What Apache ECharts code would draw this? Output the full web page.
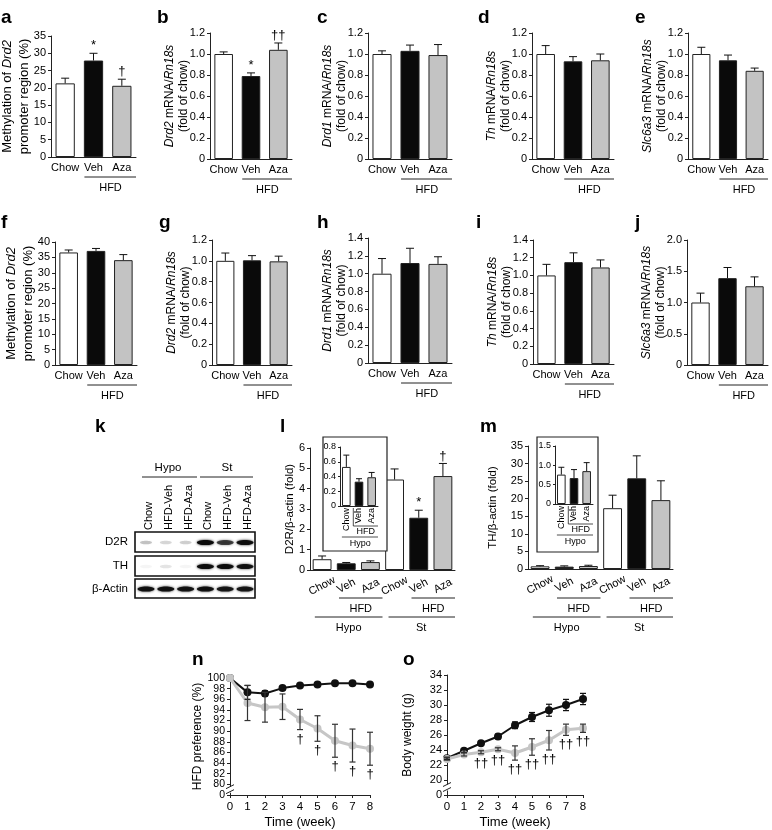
<!DOCTYPE html>
<html><head><meta charset="utf-8">
<script src="https://cdn.jsdelivr.net/npm/echarts@6/dist/echarts.min.js"></script>
<style>html,body{margin:0;padding:0;background:#fff}#c{width:772px;height:830px}</style>
</head><body><div id="c"></div>
<script>
const FONT = '"Liberation Sans", Arial, Helvetica, sans-serif';
// ---------- data ----------
const groups3 = ['Chow', 'Veh', 'Aza'];
const aMean = [21.3, 27.9, 20.6], aErr = [1.5, 2.1, 1.9], aSig = ['', '*', '†'];
const bMean = [1.00, 0.79, 1.04], bErr = [0.02, 0.03, 0.065], bSig = ['', '*', '††'];
const cMean = [1.00, 1.03, 0.99], cErr = [0.03, 0.055, 0.10];
const dMean = [1.00, 0.93, 0.94], dErr = [0.08, 0.045, 0.06];
const eMean = [1.00, 0.94, 0.84], eErr = [0.064, 0.05, 0.026];
const fMean = [36.6, 37.1, 34.1], fErr = [0.8, 0.8, 1.8];
const gMean = [1.00, 1.005, 0.995], gErr = [0.075, 0.045, 0.05];
const hMean = [1.00, 1.12, 1.11], hErr = [0.17, 0.165, 0.08];
const iMean = [1.00, 1.15, 1.09], iErr = [0.125, 0.105, 0.085];
const jMean = [1.00, 1.39, 1.26], jErr = [0.15, 0.17, 0.15];

const lmCats = ['Hypo|Chow', 'Hypo|Veh', 'Hypo|Aza', 'St|Chow', 'St|Veh', 'St|Aza'];
const lMean = [0.53, 0.33, 0.39, 4.45, 2.57, 4.62], lErr = [0.16, 0.04, 0.06, 0.52, 0.37, 0.62];
const lSig = ['', '', '', '', '*', '†'];
const lInsetMean = [0.53, 0.33, 0.39], lInsetErr = [0.16, 0.04, 0.065];
const mMean = [0.76, 0.67, 0.85, 17.3, 25.8, 19.6], mErr = [0.19, 0.22, 0.22, 3.7, 6.4, 5.5];
const mInsetMean = [0.76, 0.67, 0.85], mInsetErr = [0.19, 0.22, 0.22];

const weeks = [0, 1, 2, 3, 4, 5, 6, 7, 8];
const prefVeh = [100, 97.3, 97.1, 98.1, 98.6, 98.8, 99.0, 99.0, 98.8];
const prefVehErr = [0, 1.3, 0.5, 0.3, 0.3, 0.3, 0.3, 0.3, 0.3];
const prefAza = [100, 95.3, 94.5, 94.6, 92.2, 90.5, 88.2, 87.3, 86.7];
const prefAzaErr = [0, 3.3, 2.8, 2.4, 1.9, 2.4, 3.1, 3.1, 3.1];
const prefSig = ['', '', '', '', '†', '†', '†', '†', '†'];
const bwVeh = [22.9, 23.9, 24.9, 25.8, 27.3, 28.4, 29.3, 30.0, 30.8];
const bwVehErr = [0.15, 0.2, 0.2, 0.3, 0.45, 0.6, 0.8, 0.75, 0.75];
const bwAza = [22.8, 23.4, 23.7, 24.1, 23.6, 24.4, 25.3, 26.7, 26.9];
const bwAzaErr = [0.15, 0.2, 0.2, 0.2, 0.95, 1.1, 1.3, 0.75, 0.55];
const bwSig = ['', '', '††', '††', '††', '††', '††', '††', '††'];

const blotLanes = ['Chow', 'HFD-Veh', 'HFD-Aza', 'Chow', 'HFD-Veh', 'HFD-Aza'];
const blotRows = ['D2R', 'TH', 'β-Actin'];
const blotD2R = [0.22, 0.15, 0.18, 1.0, 0.7, 0.95];
const blotTH = [0.04, 0.1, 0.04, 0.95, 0.95, 0.9];
const blotActin = [0.92, 0.92, 0.9, 0.92, 0.88, 0.88];

// ---------- builders ----------
const COLORS = ['#ffffff', '#0a0a0a', '#c3c3c3'];
const AX = '#222';
const grids = [], xAxes = [], yAxes = [], series = [], graphics = [];

function txt(x, y, text, o) {
  o = o || {};
  graphics.push({type: 'text', x: x, y: y, rotation: o.rot || 0, z: 100,
    style: {text: text, align: o.align || 'center', verticalAlign: o.va || 'middle',
      fontSize: o.fs || 11, fontFamily: FONT, fontWeight: o.fw || 'normal', fill: '#000'}});
}
function hline(x1, x2, y, w) {
  graphics.push({type: 'line', z: 100, shape: {x1: x1, y1: y, x2: x2, y2: y}, style: {stroke: AX, lineWidth: w || 1}});
}
function seg(x1, y1, x2, y2, w) {
  graphics.push({type: 'line', z: 100, shape: {x1: x1, y1: y1, x2: x2, y2: y2}, style: {stroke: AX, lineWidth: w || 1}});
}

function barErrRender(errs, sigs, capHalf, sigSize) {
  return function (params, api) {
    const k = params.dataIndex;
    const cat = api.value(0), m = api.value(1), e = errs[k];
    const p0 = api.coord([cat, m]);
    const p1 = api.coord([cat, m + e]);
    const x = p0[0];
    const ch = [
      {type: 'line', shape: {x1: x, y1: p0[1], x2: x, y2: p1[1]}, style: {stroke: '#111', lineWidth: 1}},
      {type: 'line', shape: {x1: x - capHalf, y1: p1[1], x2: x + capHalf, y2: p1[1]}, style: {stroke: '#111', lineWidth: 1}}
    ];
    if (sigs && sigs[k]) {
      ch.push({type: 'text', style: {text: sigs[k], x: x, y: p1[1] - 1, align: 'center', verticalAlign: 'bottom',
        fontSize: sigSize || 13, fontFamily: FONT, fill: '#000'}});
    }
    return {type: 'group', children: ch};
  };
}

function addBarPanel(cfg) {
  const gi = grids.length;
  const g = cfg.geom;
  grids.push({left: g.left, top: g.top, width: g.right - g.left, height: g.bottom - g.top, outerBoundsMode: 'none'});
  xAxes.push({type: 'category', gridIndex: gi, data: cfg.cats,
    axisLine: {lineStyle: {color: AX, width: 1}}, axisTick: {show: false},
    axisLabel: {interval: 0, color: '#000', fontSize: cfg.catSize || 11, fontFamily: FONT, margin: cfg.catMargin || 5,
      rotate: cfg.rotate || 0, formatter: function (v) { return v.indexOf('|') >= 0 ? v.split('|')[1] : v; },
      align: cfg.catAlign, verticalAlign: cfg.catVAlign}});
  yAxes.push({type: 'value', gridIndex: gi, position: 'left', min: 0, max: cfg.max, interval: cfg.interval,
    axisLine: {show: true, lineStyle: {color: AX, width: 1}},
    axisTick: {show: true, length: cfg.tickLen || 3, lineStyle: {color: AX}},
    splitLine: {show: false},
    axisLabel: {color: '#000', fontSize: cfg.tickSize || 11, fontFamily: FONT, margin: cfg.tickMargin || 5,
      showMinLabel: true, showMaxLabel: true,
      formatter: function (v) { return v === 0 ? '0' : v.toFixed(cfg.dec); }},
    name: cfg.name || '', nameLocation: 'middle', nameGap: cfg.nameGap || 19, nameRotate: 90, nameMoveOverlap: false,
    nameTextStyle: {color: '#000', fontSize: cfg.nameSize || 12, fontFamily: FONT, lineHeight: cfg.nameLH || 14, align: 'center',
      rich: {i: {fontStyle: 'italic', fontSize: cfg.nameSize || 12, fontFamily: FONT, lineHeight: cfg.nameLH || 14}}}});
  series.push({type: 'bar', xAxisIndex: gi, yAxisIndex: gi, barWidth: cfg.barWidth || '68%', silent: true,
    itemStyle: {borderColor: '#222', borderWidth: 1},
    data: cfg.mean.map(function (v, k) { return {value: v, itemStyle: {color: COLORS[k % 3]}}; })});
  series.push({type: 'custom', xAxisIndex: gi, yAxisIndex: gi, z: 4, silent: true,
    data: cfg.mean.map(function (v, k) { return [k, v]; }),
    renderItem: barErrRender(cfg.err, cfg.sig, cfg.cap || 4, cfg.sigSize)});
  return gi;
}

// ---------- rows 1 & 2 ----------
const nameMeth = 'Methylation of {i|Drd2}\npromoter region (%)';
const panels12 = [
  {mean: aMean, err: aErr, sig: aSig, geom: {left: 51, right: 136, top: 36, bottom: 157}, max: 35, interval: 5, dec: 0, name: nameMeth, nameSize: 13, nameLH: 17, nameGap: 18},
  {mean: bMean, err: bErr, sig: bSig, geom: {left: 210, right: 292, top: 33, bottom: 159}, max: 1.2, interval: 0.2, dec: 1, name: '{i|Drd2} mRNA/{i|Rn18s}\n(fold of chow)'},
  {mean: cMean, err: cErr, geom: {left: 368, right: 452, top: 33, bottom: 159}, max: 1.2, interval: 0.2, dec: 1, name: '{i|Drd1} mRNA/{i|Rn18s}\n(fold of chow)'},
  {mean: dMean, err: dErr, geom: {left: 532, right: 614, top: 33, bottom: 159}, max: 1.2, interval: 0.2, dec: 1, name: '{i|Th} mRNA/{i|Rn18s}\n(fold of chow)'},
  {mean: eMean, err: eErr, geom: {left: 688, right: 768, top: 33, bottom: 159}, max: 1.2, interval: 0.2, dec: 1, name: '{i|Slc6a3} mRNA/{i|Rn18s}\n(fold of chow)'},
  {mean: fMean, err: fErr, geom: {left: 55, right: 137, top: 242, bottom: 365}, max: 40, interval: 5, dec: 0, name: nameMeth, nameSize: 13, nameLH: 17, nameGap: 18},
  {mean: gMean, err: gErr, geom: {left: 212, right: 292, top: 240, bottom: 365}, max: 1.2, interval: 0.2, dec: 1, name: '{i|Drd2} mRNA/{i|Rn18s}\n(fold of chow)'},
  {mean: hMean, err: hErr, geom: {left: 368, right: 452, top: 238, bottom: 363}, max: 1.4, interval: 0.2, dec: 1, name: '{i|Drd1} mRNA/{i|Rn18s}\n(fold of chow)'},
  {mean: iMean, err: iErr, geom: {left: 533, right: 614, top: 240, bottom: 364}, max: 1.4, interval: 0.2, dec: 1, name: '{i|Th} mRNA/{i|Rn18s}\n(fold of chow)'},
  {mean: jMean, err: jErr, geom: {left: 687, right: 768, top: 240, bottom: 365}, max: 2.0, interval: 0.5, dec: 1, name: '{i|Slc6a3} mRNA/{i|Rn18s}\n(fold of chow)'}
];
panels12.forEach(function (p) {
  p.cats = groups3;
  addBarPanel(p);
  const g = p.geom, band = (g.right - g.left) / 3;
  hline(g.left + band * 1.18, g.right, g.bottom + 20);
  txt(g.left + band * 2.1, g.bottom + 31, 'HFD', {fs: 11});
});

// ---------- panel l & m ----------
function addGroupedPanel(p) {
  addBarPanel(p);
  const g = p.geom, band = (g.right - g.left) / 6;
  hline(g.left + band * 1.2, g.left + band * 3, 598);
  hline(g.left + band * 4.2, g.right, 598);
  txt(g.left + band * 2.1, 609, 'HFD', {fs: 11});
  txt(g.left + band * 5.1, 609, 'HFD', {fs: 11});
  hline(g.left + band * 0.2, g.left + band * 3, 617);
  hline(g.left + band * 3.25, g.right, 617);
  txt(g.left + band * 1.6, 628, 'Hypo', {fs: 11});
  txt(g.left + band * 4.6, 628, 'St', {fs: 11});
}
addGroupedPanel({mean: lMean, err: lErr, sig: lSig, cats: lmCats, geom: {left: 310, right: 455, top: 448, bottom: 570},
  max: 6, interval: 1, dec: 0, name: 'D2R/β-actin (fold)', nameSize: 11.5, nameGap: 13, barWidth: '78%', rotate: 28,
  catAlign: 'center', catVAlign: 'middle', catMargin: 16, cap: 4});
addGroupedPanel({mean: mMean, err: mErr, cats: lmCats, geom: {left: 528, right: 673, top: 446, bottom: 569},
  max: 35, interval: 5, dec: 0, name: 'TH/β-actin (fold)', nameSize: 11.5, nameGap: 28, barWidth: '78%', rotate: 28,
  catAlign: 'center', catVAlign: 'middle', catMargin: 16, cap: 4});

// insets (boxes first so they sit below inset axes)
graphics.push({type: 'rect', z: 50, shape: {x: 323, y: 437, width: 64, height: 114}, style: {fill: '#fff', stroke: AX, lineWidth: 1.2}});
graphics.push({type: 'rect', z: 50, shape: {x: 537, y: 437, width: 61, height: 115}, style: {fill: '#fff', stroke: AX, lineWidth: 1.2}});

function addInset(p) {
  const gi = addBarPanel(p);
  grids[gi].z = 60;
  xAxes[gi].z = 60; yAxes[gi].z = 60;
  series[series.length - 1].z = 62; series[series.length - 2].z = 61;
  const g = p.geom, band = (g.right - g.left) / 3;
  const xv = g.left + band * 1.05;
  seg(xv, g.bottom + 2, xv, g.bottom + 20, 0.8);
  hline(xv, g.right, g.bottom + 20, 0.8);
  txt((xv + g.right) / 2, g.bottom + 26, 'HFD', {fs: 9});
  hline(g.left + band * 0.15, g.right, g.bottom + 31, 0.8);
  txt(g.left + band * 1.6, g.bottom + 38, 'Hypo', {fs: 9});
}
addInset({mean: lInsetMean, err: lInsetErr, cats: groups3, geom: {left: 340, right: 378, top: 447, bottom: 506},
  max: 0.8, interval: 0.2, dec: 1, barWidth: '68%', rotate: 90, catSize: 9, catMargin: 2, tickSize: 9, tickMargin: 4, tickLen: 2, cap: 3});
addInset({mean: mInsetMean, err: mInsetErr, cats: groups3, geom: {left: 555, right: 593, top: 446, bottom: 504},
  max: 1.5, interval: 0.5, dec: 1, barWidth: '68%', rotate: 90, catSize: 9, catMargin: 2, tickSize: 9, tickMargin: 4, tickLen: 2, cap: 3});

// ---------- panels n & o ----------
function lineErrRender(errs, sigs, color) {
  return function (params, api) {
    const k = params.dataIndex;
    const x = api.value(0), m = api.value(1), e = errs[k];
    const pt = api.coord([x, m + e]), pb = api.coord([x, m - e]);
    const cx = pt[0], ch = [];
    if (e > 0) {
      ch.push({type: 'line', shape: {x1: cx, y1: pt[1], x2: cx, y2: pb[1]}, style: {stroke: color, lineWidth: 1.2}});
      ch.push({type: 'line', shape: {x1: cx - 3, y1: pt[1], x2: cx + 3, y2: pt[1]}, style: {stroke: color, lineWidth: 1.2}});
      ch.push({type: 'line', shape: {x1: cx - 3, y1: pb[1], x2: cx + 3, y2: pb[1]}, style: {stroke: color, lineWidth: 1.2}});
    }
    if (sigs && sigs[k]) {
      ch.push({type: 'text', style: {text: sigs[k], x: cx, y: pb[1] + 3, align: 'center', verticalAlign: 'top',
        fontSize: 13, fontFamily: FONT, fill: '#000'}});
    }
    return {type: 'group', children: ch};
  };
}
function addLinePanel(p) {
  const gi = grids.length, g = p.geom;
  grids.push({left: g.left, top: g.top, width: g.right - g.left, height: g.bottom - g.top, outerBoundsMode: 'none'});
  xAxes.push({type: 'value', gridIndex: gi, min: 0, max: 8, interval: 1,
    axisLine: {lineStyle: {color: AX, width: 1}}, axisTick: {show: true, length: 3, lineStyle: {color: AX}},
    splitLine: {show: false}, axisLabel: {color: '#000', fontSize: 11.5, fontFamily: FONT, margin: 6},
    name: 'Time (week)', nameLocation: 'middle', nameGap: 21,
    nameTextStyle: {color: '#000', fontSize: 13, fontFamily: FONT}});
  const yi = yAxes.length;
  // two stacked label layers (even / odd ticks) on the same left side so tight labels are never auto-hidden
  [0, 1].forEach(function (parity) {
    yAxes.push({type: 'value', gridIndex: gi, position: 'left', offset: 0, min: p.min, max: p.max, interval: 2,
      axisLine: {show: parity === 0, onZero: false, lineStyle: {color: AX, width: 1}},
      axisTick: {show: parity === 0, length: 3, lineStyle: {color: AX}},
      splitLine: {show: false},
      axisLabel: {color: '#000', fontSize: p.tickSize || 11, fontFamily: FONT, margin: 5,
        showMinLabel: true, showMaxLabel: true, hideOverlap: false,
        formatter: function (v) {
          const idx = Math.round((v - p.min) / 2);
          if (idx % 2 !== parity) return '';
          return v === p.min ? '0' : String(v);
        }},
      name: parity === 0 ? p.name : '', nameLocation: 'middle', nameGap: p.nameGap, nameRotate: 90, nameMoveOverlap: false,
      nameTextStyle: {color: '#000', fontSize: 12, fontFamily: FONT}});
  });
  series.push({type: 'line', xAxisIndex: gi, yAxisIndex: yi, silent: true, z: 3,
    data: weeks.map(function (w, k) { return [w, p.veh[k]]; }),
    symbol: 'circle', symbolSize: 8, itemStyle: {color: '#111'}, lineStyle: {color: '#111', width: 2}});
  series.push({type: 'line', xAxisIndex: gi, yAxisIndex: yi, silent: true, z: 4,
    data: weeks.map(function (w, k) { return [w, p.aza[k]]; }),
    symbol: 'circle', symbolSize: 8, itemStyle: {color: '#c6c6c6'}, lineStyle: {color: '#c6c6c6', width: 3}});
  series.push({type: 'custom', xAxisIndex: gi, yAxisIndex: yi, silent: true, z: 5,
    data: weeks.map(function (w, k) { return [w, p.veh[k]]; }), renderItem: lineErrRender(p.vehErr, null, '#111')});
  series.push({type: 'custom', xAxisIndex: gi, yAxisIndex: yi, silent: true, z: 6,
    data: weeks.map(function (w, k) { return [w, p.aza[k]]; }), renderItem: lineErrRender(p.azaErr, p.sig, '#333')});
  // axis break mark
  const yb = g.bottom - (g.bottom - g.top) * 1 / (p.max - p.min);
  graphics.push({type: 'rect', z: 90, shape: {x: g.left - 2, y: yb - 3, width: 4, height: 6}, style: {fill: '#fff'}});
  seg(g.left - 4, yb - 1, g.left + 4, yb - 5, 1);
  seg(g.left - 4, yb + 4, g.left + 4, yb, 1);
}
addLinePanel({geom: {left: 230, right: 370, top: 678, bottom: 795}, min: 78, max: 100, name: 'HFD preference (%)', nameGap: 26, tickSize: 10.5,
  veh: prefVeh, vehErr: prefVehErr, aza: prefAza, azaErr: prefAzaErr, sig: prefSig});
addLinePanel({geom: {left: 447, right: 583, top: 675, bottom: 795}, min: 18, max: 34, name: 'Body weight (g)', nameGap: 33,
  veh: bwVeh, vehErr: bwVehErr, aza: bwAza, azaErr: bwAzaErr, sig: bwSig});

// ---------- panel k (western blot) ----------
const boxX = 135, boxW = 120;
const rowBoxes = [[532, 20], [556, 20], [579, 19]];
const bandSets = [blotD2R, blotTH, blotActin];
txt(168, 468, 'Hypo', {fs: 11.5});
txt(227, 468, 'St', {fs: 11.5});
hline(142, 197, 477);
hline(200, 253, 477);
blotLanes.forEach(function (name, i) {
  const lx = boxX + 11 + 19.8 * i;
  txt(lx + 3, 530, name, {fs: 11, align: 'left', rot: Math.PI / 2});
});
rowBoxes.forEach(function (rb, r) {
  graphics.push({type: 'rect', z: 100, shape: {x: boxX, y: rb[0], width: boxW, height: rb[1]}, style: {fill: '#fff', stroke: '#111', lineWidth: 1.6}});
  txt(128, rb[0] + rb[1] / 2, blotRows[r], {fs: 11.5, align: 'right'});
  bandSets[r].forEach(function (v, i) {
    const lx = boxX + 11 + 19.8 * i;
    const small = v < 0.3;
    graphics.push({type: 'ellipse', z: 101, shape: {cx: lx, cy: rb[0] + rb[1] / 2 + 0.5, rx: small ? 6 : 8.5, ry: small ? 1.8 : 2.6},
      style: {fill: 'rgba(10,10,10,' + v + ')', shadowBlur: 2.5, shadowColor: 'rgba(10,10,10,' + v + ')'}});
  });
});

// ---------- panel letters ----------
[['a', 1, 18], ['b', 157, 18], ['c', 317, 18], ['d', 478, 18], ['e', 635, 18],
 ['f', 1, 223], ['g', 159, 223], ['h', 317, 223], ['i', 476, 223], ['j', 635, 223],
 ['k', 95, 427], ['l', 280, 427], ['m', 480, 427], ['n', 192, 660], ['o', 403, 660]].forEach(function (L) {
  txt(L[1], L[2], L[0], {fs: 19, fw: 'bold', align: 'left'});
});

const chart = echarts.init(document.getElementById('c'), null, {renderer: 'canvas'});
chart.setOption({
  animation: false,
  backgroundColor: '#fff',
  textStyle: {fontFamily: FONT},
  grid: grids, xAxis: xAxes, yAxis: yAxes, series: series, graphic: graphics
});
</script></body></html>
